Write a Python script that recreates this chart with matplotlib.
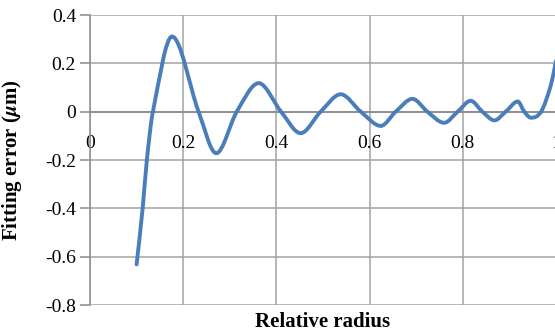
import numpy as np
import matplotlib
matplotlib.use("Agg")
import matplotlib.pyplot as plt
from matplotlib.path import Path
from matplotlib.patches import PathPatch

# values (Excel smoothed line)
radius = [0.100, 0.113, 0.122, 0.135, 0.176, 0.233, 0.271, 0.315,
          0.362, 0.410, 0.452, 0.495, 0.538, 0.581, 0.624, 0.656, 0.692, 0.724,
          0.760, 0.789, 0.817, 0.842, 0.868, 0.892, 0.918, 0.932, 0.946, 0.968,
          0.989, 1.000]
error = [-0.632, -0.40, -0.20, 0.0, 0.311, 0.0, -0.172, 0.0,
         0.118, 0.0, -0.089, 0.0, 0.072, 0.0, -0.059, 0.0, 0.053, 0.0,
         -0.046, 0.0, 0.045, 0.0, -0.036, 0.0, 0.042, 0.0, -0.025, 0.0,
         0.11, 0.21]

x_ticks = [0, 0.2, 0.4, 0.6, 0.8, 1.0]
x_labels = ["0", "0.2", "0.4", "0.6", "0.8", "1"]
y_ticks = [-0.8, -0.6, -0.4, -0.2, 0, 0.2, 0.4]
y_labels = ["-0.8", "-0.6", "-0.4", "-0.2", "0", "0.2", "0.4"]

plt.rcParams["font.family"] = ["Liberation Serif", "DejaVu Serif"]
plt.rcParams["mathtext.fontset"] = "stix"

grid_c = "#a3a3a3"
line_c = "#4a7ebb"


def smooth_path(xs, ys):
    # cubic hermite through the points, drawn as bezier segments
    xs = np.asarray(xs, float)
    ys = np.asarray(ys, float)
    n = len(xs)
    m = np.zeros(n)
    m[0] = (ys[1] - ys[0]) / (xs[1] - xs[0])
    m[-1] = (ys[-1] - ys[-2]) / (xs[-1] - xs[-2])
    for i in range(1, n - 1):
        m[i] = (ys[i + 1] - ys[i - 1]) / (xs[i + 1] - xs[i - 1])
    verts = [(xs[0], ys[0])]
    codes = [Path.MOVETO]
    for i in range(n - 1):
        h = xs[i + 1] - xs[i]
        verts += [(xs[i] + h / 3, ys[i] + m[i] * h / 3),
                  (xs[i + 1] - h / 3, ys[i + 1] - m[i + 1] * h / 3),
                  (xs[i + 1], ys[i + 1])]
        codes += [Path.CURVE4] * 3
    return Path(verts, codes)


fig = plt.figure(figsize=(5.55, 3.33), dpi=100)
ax = fig.add_axes([90 / 555, 28 / 333, 466 / 555, 290 / 333])

ax.set_xlim(0, 1)
ax.set_ylim(-0.8, 0.4)

ax.add_patch(PathPatch(smooth_path(radius, error), fill=False,
                       edgecolor=line_c, lw=2.8, capstyle="round", zorder=3))

ax.set_xticks(x_ticks)
ax.set_xticklabels(x_labels)
ax.set_yticks(y_ticks)
ax.set_yticklabels(y_labels)
ax.grid(True, color=grid_c, lw=1.1)
ax.set_axisbelow(True)

for s in ["top", "right"]:
    ax.spines[s].set_visible(False)
ax.spines["left"].set_color("#8c8c8c")
ax.spines["left"].set_linewidth(1.1)
ax.spines["bottom"].set_position(("data", 0))
ax.spines["bottom"].set_color("#8c8c8c")
ax.spines["bottom"].set_linewidth(1.3)

ax.tick_params(axis="y", length=7, width=1.1, color="#8c8c8c", pad=3, labelsize=14)
ax.tick_params(axis="x", length=0, pad=17, labelsize=14)

ax.set_xlabel("Relative radius", fontsize=15, fontweight="bold", labelpad=0)
ax.xaxis.set_label_coords(0.5, -0.025)
ax.set_ylabel(r"Fitting error ($\boldsymbol{\mu}$m)", fontsize=15, fontweight="bold")
ax.yaxis.set_label_coords(-0.142, 0.5)

fig.savefig("out.png", dpi=100)
